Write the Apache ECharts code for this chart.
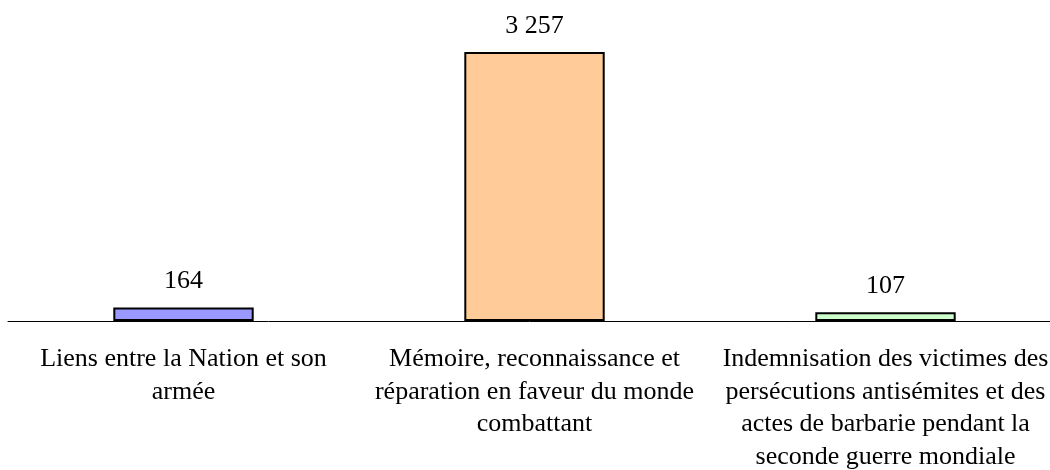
<!DOCTYPE html>
<html><head><meta charset="utf-8">
<script src="https://cdn.jsdelivr.net/npm/echarts@6/dist/echarts.min.js"></script>
<style>html,body{margin:0;padding:0;background:#fff}#c{width:1050px;height:470px}</style>
</head><body><div id="c"></div>
<script>
const categories = [
  "Liens entre la Nation et son\narmée",
  "Mémoire, reconnaissance et\nréparation en faveur du monde\ncombattant",
  "Indemnisation des victimes des\npersécutions antisémites et des\nactes de barbarie pendant la\nseconde guerre mondiale"
];
const values = [164, 3257, 107];
const colors = ["#9999FF", "#FFCC99", "#CCFFCC"];

const chart = echarts.init(document.getElementById('c'));
const font = '"Liberation Serif", "Times New Roman", serif';
chart.setOption({
  animation: false,
  grid: {left: 8, width: 1053, top: 52, height: 269, containLabel: false, outerBoundsMode: 'none'},
  xAxis: {
    type: 'category', data: categories,
    axisLine: {lineStyle: {color: '#000', width: 1}},
    axisTick: {show: false},
    axisLabel: {interval: 0, margin: 22, color: '#000', fontFamily: font, fontSize: 26, lineHeight: 32.5}
  },
  yAxis: {type: 'value', min: 0, max: 3257, show: false, splitLine: {show: false}},
  series: [{
    type: 'bar', barWidth: '40%',
    data: values.map((v, i) => ({value: v, itemStyle: {color: colors[i]}})),
    itemStyle: {borderColor: '#000', borderWidth: 2},
    label: {
      show: true, position: 'top', distance: 13, color: '#000', fontFamily: font, fontSize: 26,
      formatter: p => String(p.value).replace(/\B(?=(\d{3})+(?!\d))/g, ' ')
    }
  }]
});
</script></body></html>
